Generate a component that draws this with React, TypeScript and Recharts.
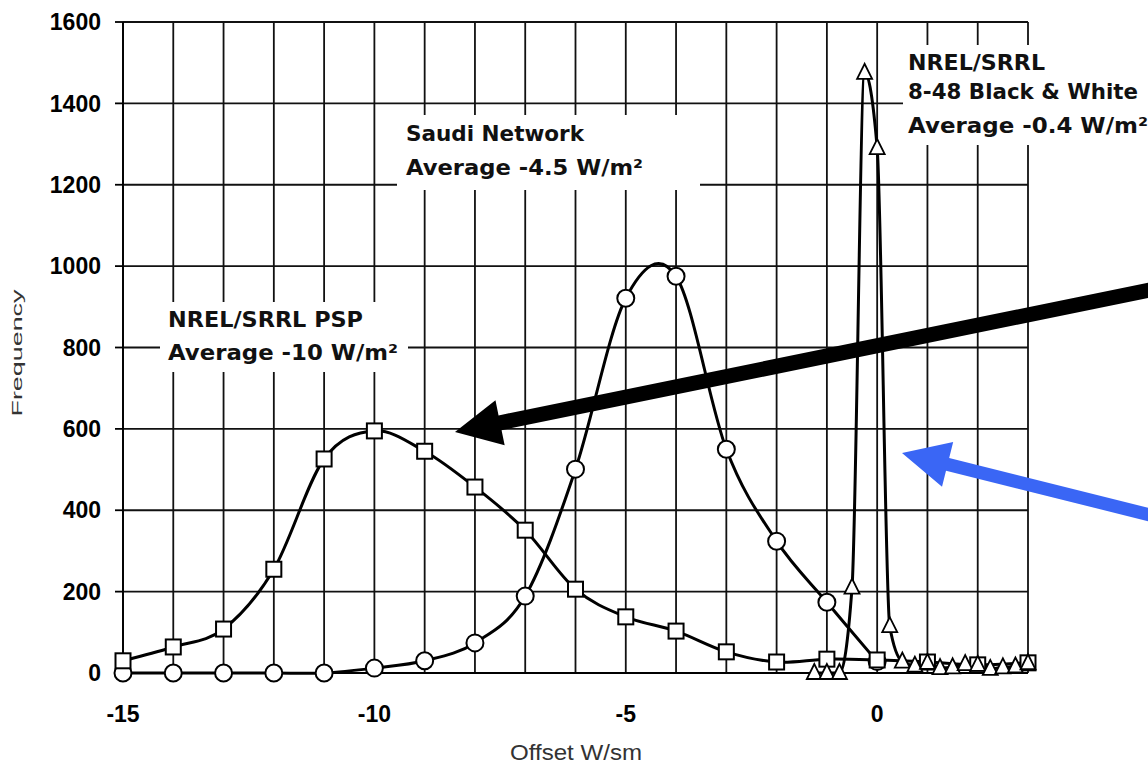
import { LineChart, Line, XAxis, YAxis, CartesianGrid } from 'recharts';

const xTicks = [-15, -14, -13, -12, -11, -10, -9, -8, -7, -6, -5, -4, -3, -2, -1, 0, 1, 2, 3];
const yTicks = [0, 200, 400, 600, 800, 1000, 1200, 1400, 1600];

// NREL/SRRL PSP (squares)
const pspX = [-15, -14, -13, -12, -11, -10, -9, -8, -7, -6, -5, -4, -3, -2, -1, 0, 1, 2, 3];
const pspY = [30, 64, 108, 255, 526, 595, 545, 457, 351, 206, 138, 103, 52, 27, 34, 32, 27, 20, 25];

// Saudi Network (circles)
const saudiX = [-15, -14, -13, -12, -11, -10, -9, -8, -7, -6, -5, -4, -3, -2, -1, 0];
const saudiY = [0, 0, 0, 0, 0, 12, 30, 74, 189, 501, 921, 975, 550, 324, 174, 28];

// NREL/SRRL 8-48 Black & White (triangles)
const bwX = [-1.25, -1, -0.75, -0.5, -0.25, 0, 0.25, 0.5, 0.75, 1, 1.25, 1.5, 1.75, 2, 2.25, 2.5, 2.75, 3];
const bwY = [0, 0, 0, 210, 1475, 1290, 115, 28, 18, 25, 12, 14, 22, 20, 10, 14, 16, 24];

const toRows = (xs: number[], ys: number[]) => xs.map((x, i) => ({ x, y: ys[i] }));
const pspData = toRows(pspX, pspY);
const saudiData = toRows(saudiX, saudiY);
const bwData = toRows(bwX, bwY);

// smooth curve through the points (catmull-rom)
const smooth = (ctx: any) => {
  let pts: [number, number][] = [];
  return {
    areaStart() {},
    areaEnd() {},
    lineStart() { pts = []; },
    point(x: number, y: number) { pts.push([x, y]); },
    lineEnd() {
      if (!pts.length) return;
      ctx.moveTo(pts[0][0], pts[0][1]);
      for (let i = 0; i < pts.length - 1; i++) {
        const p0 = pts[i - 1] || pts[i];
        const p1 = pts[i];
        const p2 = pts[i + 1];
        const p3 = pts[i + 2] || p2;
        ctx.bezierCurveTo(
          p1[0] + (p2[0] - p0[0]) / 6, p1[1] + (p2[1] - p0[1]) / 6,
          p2[0] - (p3[0] - p1[0]) / 6, p2[1] - (p3[1] - p1[1]) / 6,
          p2[0], p2[1]
        );
      }
    },
  };
};

const SquareDot = (p: any) => (
  <rect key={`s${p.index}`} x={p.cx - 7.5} y={p.cy - 7.5} width={15} height={15} fill="#fff" stroke="#000" strokeWidth={2} />
);
const CircleDot = (p: any) => (
  <circle key={`c${p.index}`} cx={p.cx} cy={p.cy} r={8.5} fill="#fff" stroke="#000" strokeWidth={2} />
);
const TriDot = (p: any) => (
  <path key={`t${p.index}`} d={`M${p.cx},${p.cy - 9}L${p.cx - 7.5},${p.cy + 6}L${p.cx + 7.5},${p.cy + 6}Z`} fill="#fff" stroke="#000" strokeWidth={1.8} />
);

function arrow(tail: [number, number], tip: [number, number], shaft: number, headL: number, headW: number) {
  const dx = tip[0] - tail[0];
  const dy = tip[1] - tail[1];
  const len = Math.hypot(dx, dy);
  const ux = dx / len, uy = dy / len;
  const nx = -uy, ny = ux;
  const bx = tip[0] - ux * headL, by = tip[1] - uy * headL;
  const pts = [
    [tail[0] + nx * shaft / 2, tail[1] + ny * shaft / 2],
    [bx + nx * shaft / 2, by + ny * shaft / 2],
    [bx + nx * headW, by + ny * headW],
    tip,
    [bx - nx * headW, by - ny * headW],
    [bx - nx * shaft / 2, by - ny * shaft / 2],
    [tail[0] - nx * shaft / 2, tail[1] - ny * shaft / 2],
  ];
  return pts.map((q) => q.join(',')).join(' ');
}

const noteFont = { fontFamily: 'DejaVu Sans', fontWeight: 700, fontSize: 21, fill: '#111' };

export default function App() {
  const tickFont = { fontFamily: 'Liberation Sans', fontWeight: 700, fontSize: 23, fill: '#000' };
  return (
    <div style={{ position: 'absolute', left: 0, top: 0, width: 1148, height: 765, background: '#fff' }}>
      <LineChart width={1148} height={765} data={pspData} margin={{ top: 22, right: 120, left: 0, bottom: 0 }}>
        <CartesianGrid stroke="#111" strokeWidth={1.8} />
        <XAxis
          type="number"
          dataKey="x"
          domain={[-15, 3]}
          ticks={xTicks}
          interval={0}
          height={92}
          tickSize={0}
          tickMargin={33}
          axisLine={{ stroke: '#000', strokeWidth: 1.8 }}
          tickLine={false}
          tick={tickFont}
          tickFormatter={(v: number) => (v % 5 === 0 ? String(v) : '')}
        />
        <YAxis
          type="number"
          domain={[0, 1600]}
          ticks={yTicks}
          interval={0}
          width={123}
          tickSize={8}
          tickMargin={14}
          axisLine={{ stroke: '#000', strokeWidth: 1.8 }}
          tickLine={{ stroke: '#000', strokeWidth: 1.8 }}
          tick={tickFont}
        />
        <Line data={saudiData} dataKey="y" type={smooth as any} stroke="#000" strokeWidth={3} dot={CircleDot} isAnimationActive={false} />
        <Line data={pspData} dataKey="y" type={smooth as any} stroke="#000" strokeWidth={3} dot={SquareDot} isAnimationActive={false} />
        <Line data={bwData} dataKey="y" type="monotone" stroke="#000" strokeWidth={3} dot={TriDot} isAnimationActive={false} />
      </LineChart>
      <svg width={1148} height={765} style={{ position: 'absolute', left: 0, top: 0, pointerEvents: 'none' }}>
        <rect x={397} y={115} width={303} height={75} fill="#fff" />
        <text x={406} y={141} {...noteFont} textLength={178} lengthAdjust="spacingAndGlyphs">Saudi Network</text>
        <text x={406} y={175} {...noteFont} textLength={237} lengthAdjust="spacingAndGlyphs">Average -4.5 W/m²</text>

        <rect x={160} y={302} width={248} height={70} fill="#fff" />
        <text x={168} y={327} {...noteFont} textLength={195} lengthAdjust="spacingAndGlyphs">NREL/SRRL PSP</text>
        <text x={168} y={360} {...noteFont} textLength={230} lengthAdjust="spacingAndGlyphs">Average -10 W/m²</text>

        <rect x={903} y={45} width={245} height={100} fill="#fff" />
        <text x={908} y={70} {...noteFont} textLength={137} lengthAdjust="spacingAndGlyphs">NREL/SRRL</text>
        <text x={908} y={99} {...noteFont} textLength={230} lengthAdjust="spacingAndGlyphs">8-48 Black &amp; White</text>
        <text x={908} y={133} {...noteFont} textLength={240} lengthAdjust="spacingAndGlyphs">Average -0.4 W/m²</text>

        <polygon points={arrow([1150, 290], [455, 432], 15, 46, 23)} fill="#000" />
        <polygon points={arrow([1150, 515], [902, 453], 13, 47, 23)} fill="#3a66f5" />

        <text x={576} y={760} textAnchor="middle" fontFamily="Liberation Sans" fontSize={22} fill="#333" textLength={132} lengthAdjust="spacingAndGlyphs">Offset W/sm</text>
        <text x={22} y={353} transform="rotate(-90 22 353)" textAnchor="middle" fontFamily="Liberation Sans" fontSize={14} fill="#333" textLength={127} lengthAdjust="spacingAndGlyphs">Frequency</text>
      </svg>
    </div>
  );
}
